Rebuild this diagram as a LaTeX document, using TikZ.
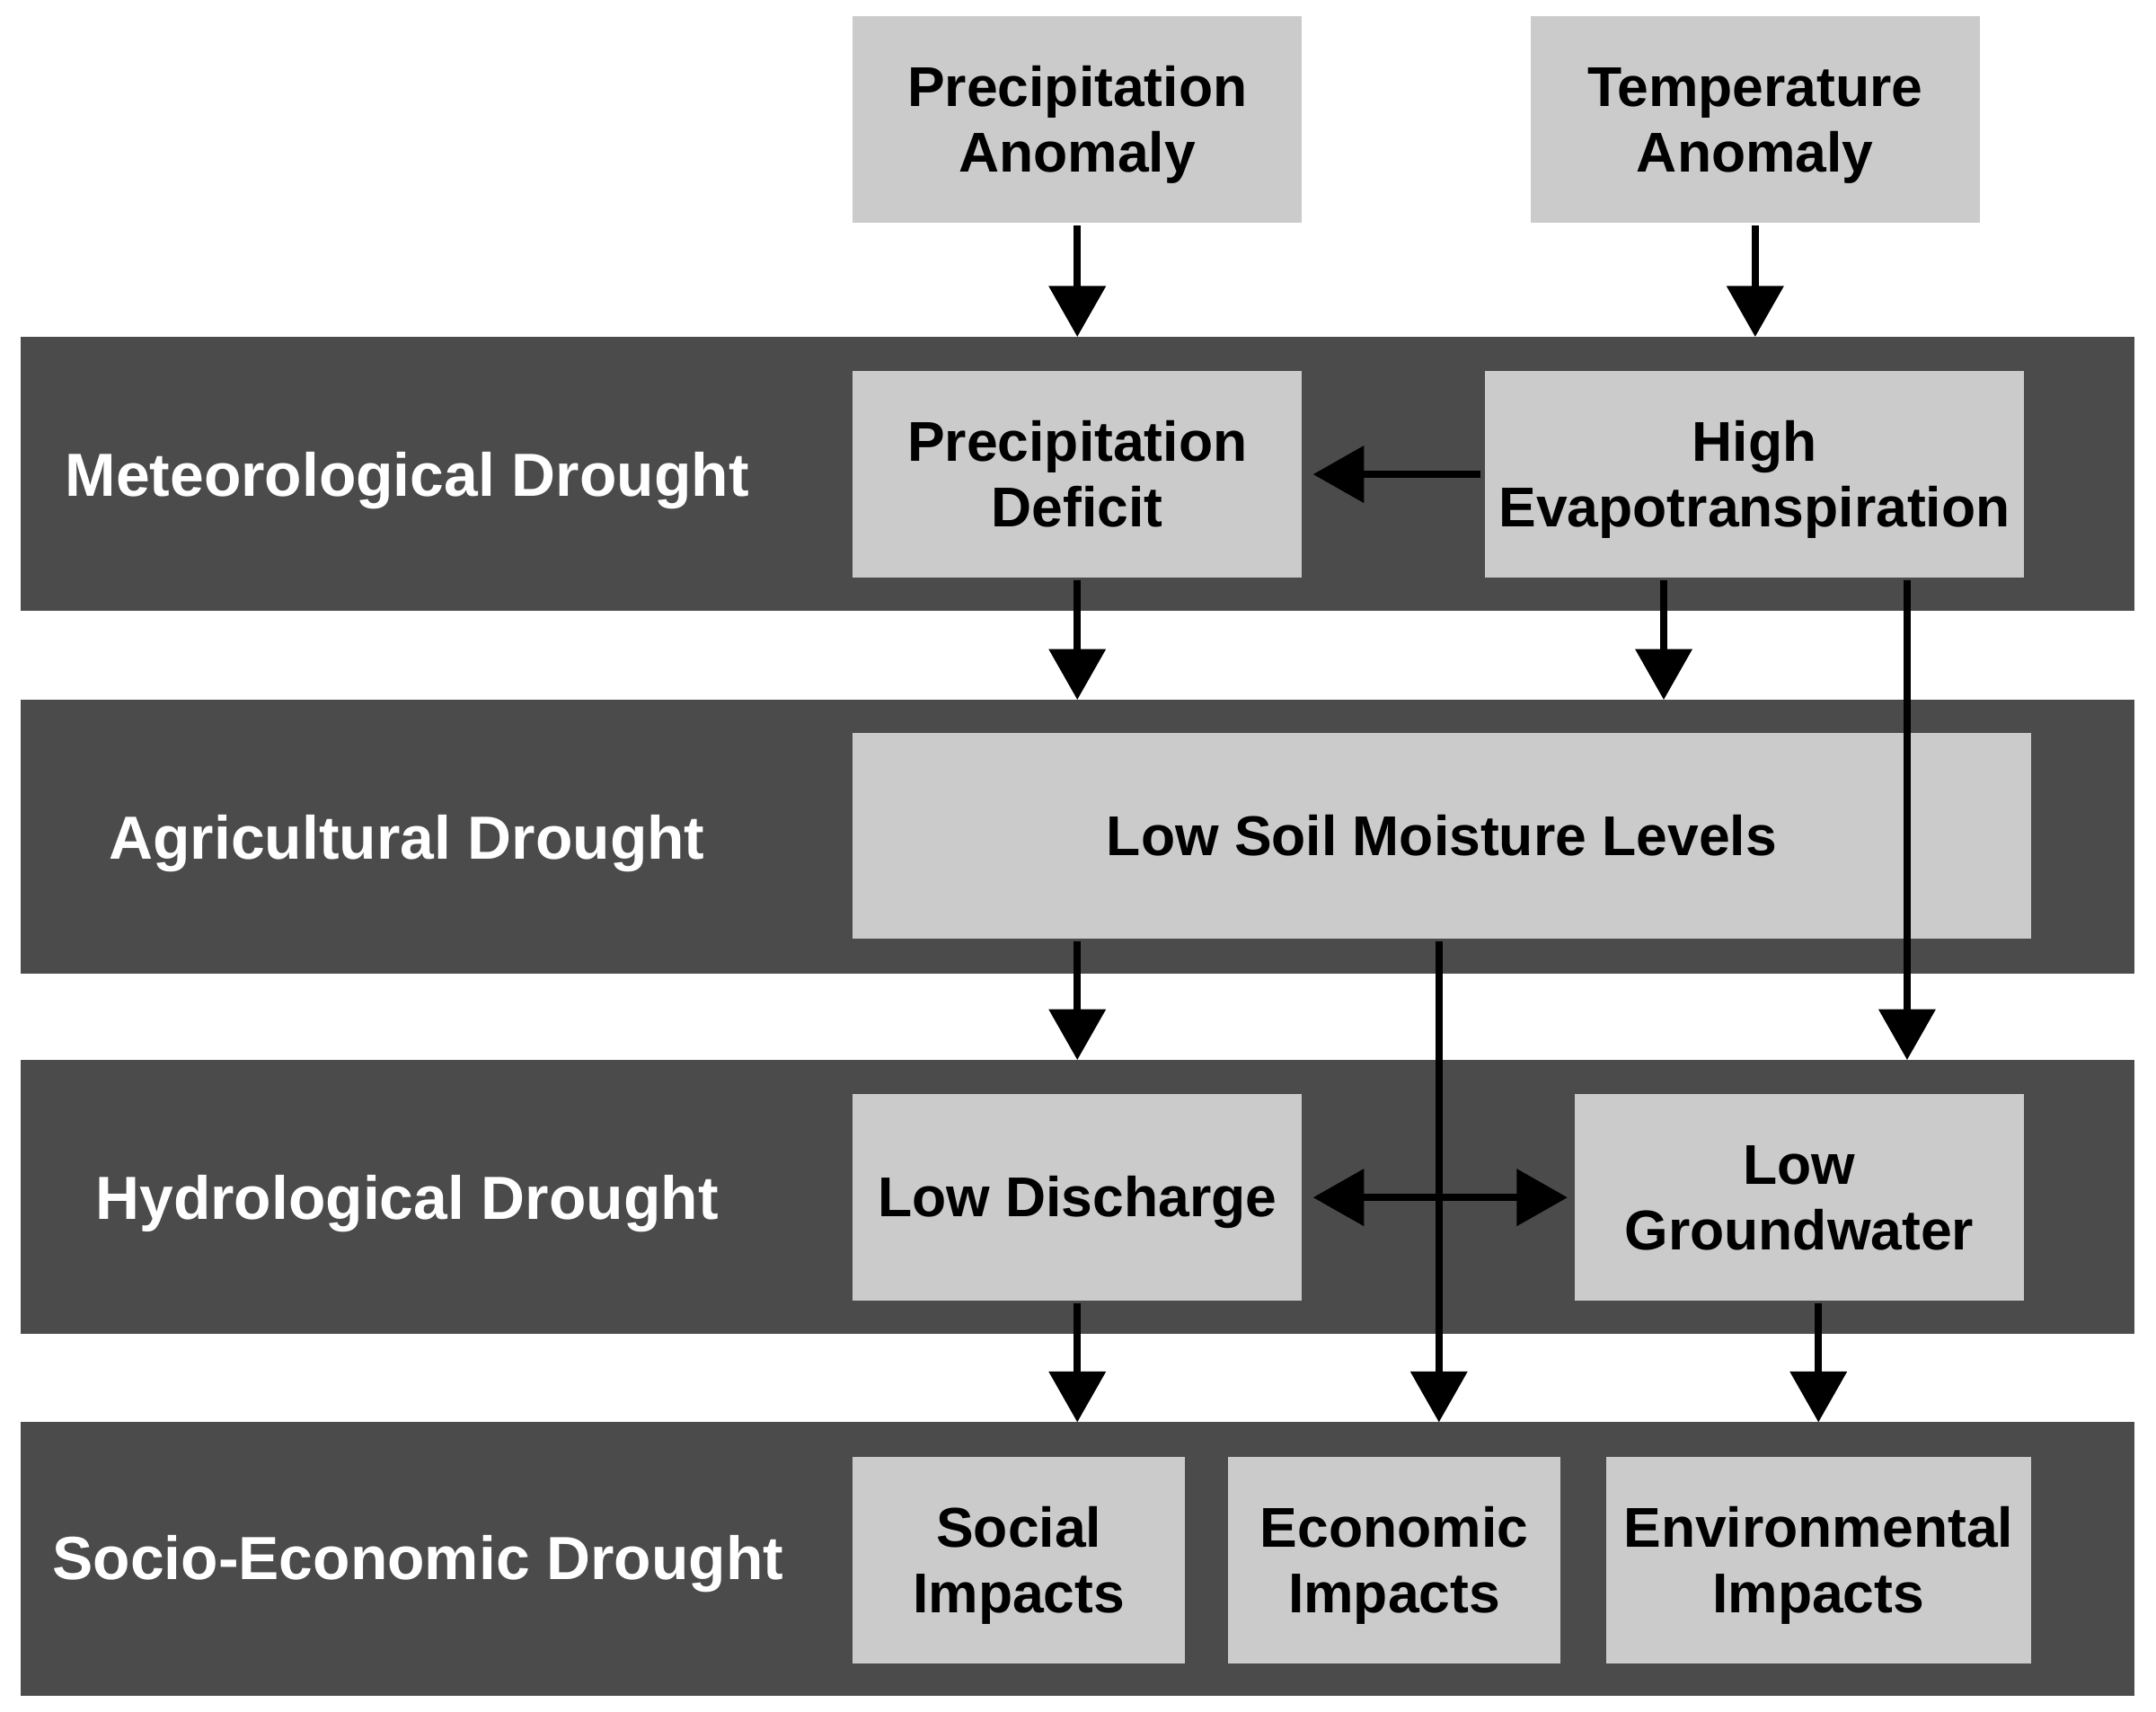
\documentclass[tikz,border=0pt]{standalone}
\usepackage{fontspec}
\setmainfont{Liberation Sans}
\usetikzlibrary{arrows.meta,calc}
\definecolor{bandgray}{HTML}{4B4B4B}
\definecolor{boxgray}{HTML}{CBCBCB}
\newcommand{\bxt}[1]{\raisebox{-1.3pt}[\height][\depth]{\begin{tabular}{@{}c@{}}#1\end{tabular}}}
\tikzset{
  band/.style={fill=bandgray, draw=none, minimum width=1537*0.01cm, minimum height=199*0.01cm, inner sep=0pt, outer sep=0pt},
  boxn/.style={fill=boxgray, draw=none, minimum height=150*0.01cm, inner sep=0pt, outer sep=0pt,
    font=\fontsize{11.6}{13.6}\selectfont\bfseries, text=black},
  lbl/.style={text=white, font=\fontsize{12.6}{14}\selectfont\bfseries, inner sep=0pt, anchor=base},
  arr/.style={line width=1.45pt, -{Triangle[width=11.5pt,length=10.5pt]}, shorten <=2*0.01cm},
  darr/.style={line width=1.45pt, {Triangle[width=11.5pt,length=10.5pt]}-{Triangle[width=11.5pt,length=10.5pt]}}
}
\begin{document}
\begin{tikzpicture}[x=0.01cm,y=-0.01cm]
\useasboundingbox[fill=white] (0,0) rectangle (1568,1245);
% bands
\node[band] (b1) at (783.5,344.5) {};
\node[band] (b2) at (783.5,608.5) {};
\node[band] (b3) at (783.5,870.5) {};
\node[band] (b4) at (783.5,1134) {};
% band labels (baseline positions)
\node[lbl] (l1) at (296,361) {Meteorological Drought};
\node[lbl] (l2) at (296,625) {Agricultural Drought};
\node[lbl] (l3) at (296,887) {Hydrological Drought};
\node[lbl] (l4) at (304,1149) {Socio-Economic Drought};
% boxes
\node[boxn, minimum width=327*0.01cm] (pa) at (783.5,87) {\bxt{Precipitation\\Anomaly}};
\node[boxn, minimum width=327*0.01cm] (ta) at (1276.5,87) {\bxt{Temperature\\Anomaly}};
\node[boxn, minimum width=327*0.01cm] (pd) at (783.5,345) {\bxt{Precipitation\\Deficit}};
\node[boxn, minimum width=392*0.01cm] (he) at (1276,345) {\bxt{High\\Evapotranspiration}};
\node[boxn, minimum width=857*0.01cm] (sm) at (1048.5,608) {\bxt{Low Soil Moisture Levels}};
\node[boxn, minimum width=327*0.01cm] (ld) at (783.5,871) {\bxt{Low Discharge}};
\node[boxn, minimum width=327*0.01cm] (lg) at (1308.5,871) {\bxt{Low\\Groundwater}};
\node[boxn, minimum width=242*0.01cm] (si) at (741,1135) {\bxt{Social\\Impacts}};
\node[boxn, minimum width=242*0.01cm] (ei) at (1014,1135) {\bxt{Economic\\Impacts}};
\node[boxn, minimum width=309*0.01cm] (env) at (1322.5,1135) {\bxt{Environmental\\Impacts}};
% helper coordinates
\coordinate (heA) at ($(he.south)+(-66,0)$);
\coordinate (heB) at ($(he.south)+(111,0)$);
\coordinate (smA) at (sm.south -| pd);
\coordinate (smB) at ($(sm.south)+(-2,0)$);
\coordinate (lgA) at (lg.south -| env);
% arrows
\draw[arr] (pa.south) -- (pa.south |- b1.north);
\draw[arr] (ta.south) -- (ta.south |- b1.north);
\draw[arr, shorten <=3*0.01cm, shorten >=8*0.01cm] (he.west) -- (pd.east);
\draw[arr] (pd.south) -- (pd.south |- b2.north);
\draw[arr] (heA) -- (heA |- b2.north);
\draw[arr] (heB) -- (heB |- b3.north);
\draw[arr] (smA) -- (smA |- b3.north);
\draw[arr] (smB) -- (smB |- b4.north);
\draw[darr, shorten <=8*0.01cm, shorten >=5*0.01cm] (ld.east) -- (lg.west);
\draw[arr] (ld.south) -- (ld.south |- b4.north);
\draw[arr] (lgA) -- (lgA |- b4.north);
\end{tikzpicture}
\end{document}
